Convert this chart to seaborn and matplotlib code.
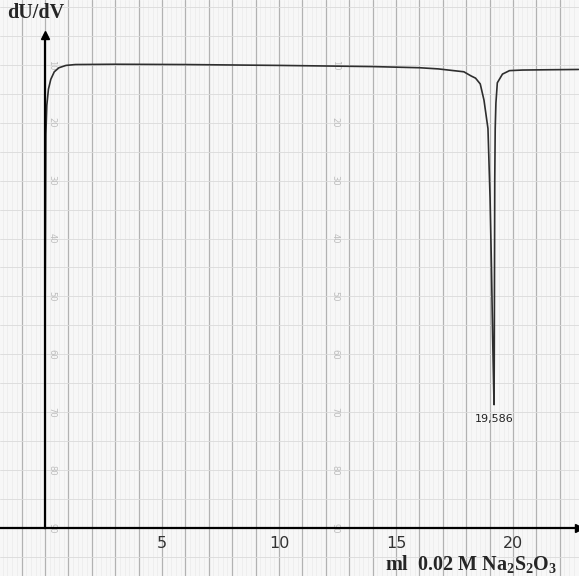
import numpy as np
import matplotlib
matplotlib.use('Agg')
import matplotlib.pyplot as plt
import seaborn as sns

# recorder trace (x in ml, y in chart-paper units, 10 = baseline, grows downward)
ml_added = [0.00, 0.02, 0.04, 0.08, 0.15, 0.25, 0.40, 0.60, 0.90, 1.30, 3.0, 6.0, 10.0, 14.0,
            16.0, 16.8, 17.9, 18.2, 18.4, 18.6, 18.76, 18.93, 19.02, 19.08, 19.13, 19.17, 19.19,
            19.20, 19.21, 19.22, 19.24, 19.27, 19.33, 19.55, 19.85, 20.4, 21.5, 22.8]
dudv = [60.0, 40.0, 22.0, 17.0, 14.2, 12.5, 11.2, 10.5, 10.1, 9.95, 9.9, 9.95, 10.1, 10.3,
        10.5, 10.7, 11.2, 11.9, 12.3, 13.3, 16.1, 21.0, 33.0, 45.0, 57.0, 65.0, 68.7,
        60.0, 45.0, 30.0, 21.0, 16.6, 13.1, 11.6, 11.0, 10.9, 10.85, 10.8]
paper_scale = [10, 20, 30, 40, 50, 60, 70, 80, 90]
x_major = [5, 10, 15, 20]
x_labels = ['5', '10', '15', '20']
peak_label = '19,586'

sns.set_style('white')
plt.rcParams['font.family'] = ['DejaVu Sans']
plt.rcParams['mathtext.fontset'] = 'custom'
plt.rcParams['mathtext.rm'] = 'Liberation Serif:bold'
plt.rcParams['mathtext.it'] = 'Liberation Serif:bold'
plt.rcParams['mathtext.bf'] = 'Liberation Serif:bold'

fig = plt.figure(figsize=(5.79, 5.76), dpi=100)
ax = fig.add_axes([0, 0, 1, 1])
ax.set_facecolor('#f7f7f7')

# chart paper grid
for v in np.arange(-2, 23.01, 0.2):
    ax.axvline(v, color='#ebebeb', lw=0.5, zorder=0)
for v in np.arange(-2, 23.01, 1):
    ax.axvline(v, color='#b2b2b2', lw=0.9, zorder=0)
for h in np.arange(0, 100, 5):
    ax.axhline(h, color='#dadada', lw=0.6, zorder=0)

# faint printed scale on the paper
for s in paper_scale:
    for xs in (0.3, 12.4):
        ax.text(xs, s, str(s), rotation=-90, fontsize=6, color='#bdbdbd',
                ha='center', va='center', zorder=1)

sns.lineplot(x=ml_added, y=dudv, sort=False, estimator=None, color='#2e2e2e',
             lw=1.2, ax=ax, zorder=3)

ax.text(19.19, 71.2, peak_label, fontsize=8, color='#222', ha='center', va='center')

ax.set_xlim(-1.92, 22.82)
ax.set_ylim(98.3, -1.2)

for side in ('top', 'right'):
    ax.spines[side].set_visible(False)
ax.spines['left'].set_position(('data', 0))
ax.spines['bottom'].set_position(('data', 90))
ax.spines['left'].set_bounds(4.8, 90)
for side in ('left', 'bottom'):
    ax.spines[side].set_linewidth(1.6)
    ax.spines[side].set_color('black')
    ax.spines[side].set_zorder(4)

ax.plot(0, 4.8, marker='^', color='black', ms=6, clip_on=False, zorder=5)
ax.plot(1, 90, marker='>', color='black', ms=6, transform=ax.get_yaxis_transform(),
        clip_on=False, zorder=5)

ax.set_xticks(x_major)
ax.set_xticklabels(x_labels)
ax.set_xticks([v for v in range(1, 23) if v % 5], minor=True)
ax.tick_params(axis='x', which='major', direction='in', length=7, width=1.3,
               labelsize=11.5, labelcolor='#333', pad=6)
ax.tick_params(axis='x', which='minor', direction='in', length=4, width=1.1)
ax.set_yticks(paper_scale)
ax.tick_params(axis='y', direction='in', length=4, width=1.1, labelleft=False)
ax.set_xlabel('')
ax.set_ylabel('')

fig.text(0.013, 0.977, 'dU/dV', fontsize=14.5, fontweight='bold',
         family='Liberation Serif', ha='left', va='center')
fig.text(0.813, 0.021, r'ml  0.02 M Na$_2$S$_2$O$_3$', fontsize=14.5, fontweight='bold',
         family='Liberation Serif', ha='center', va='center')

fig.savefig('out.png', dpi=100)
